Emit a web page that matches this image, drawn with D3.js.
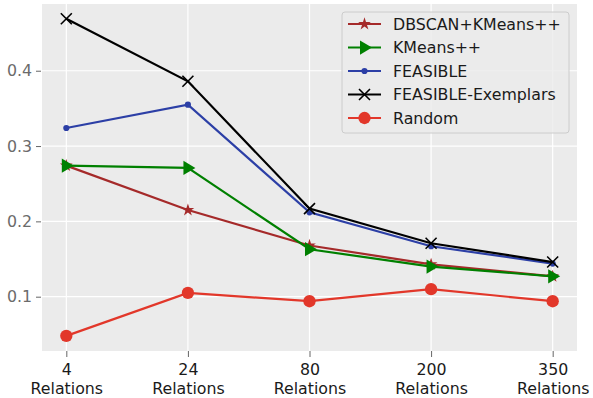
<!DOCTYPE html>
<html>
<head>
<meta charset="utf-8">
<script src="https://cdn.jsdelivr.net/npm/d3@7"></script>
<style>
  body { margin: 0; background: #fff; }
  svg { font-family: "DejaVu Sans", sans-serif; }
</style>
</head>
<body>
<svg id="chart"></svg>
<script>
// Data
const categories = ["4", "24", "80", "200", "350"];
const seriesNames = ["DBSCAN+KMeans++", "KMeans++", "FEASIBLE", "FEASIBLE-Exemplars", "Random"];
const dbscan = [0.274, 0.215, 0.168, 0.143, 0.127];
const kmeans = [0.274, 0.271, 0.163, 0.140, 0.127];
const feasible = [0.324, 0.355, 0.212, 0.167, 0.144];
const exemplars = [0.469, 0.386, 0.217, 0.171, 0.146];
const random = [0.048, 0.105, 0.094, 0.110, 0.094];
const yTicks = [0.1, 0.2, 0.3, 0.4];

const styles = [
  { color: "#a52a2a", marker: "star", size: 50 },
  { color: "#008000", marker: "tri", size: 150 },
  { color: "#2c3fa6", marker: "dot", size: 30 },
  { color: "#000000", marker: "x", size: 0 },
  { color: "#e2372a", marker: "circle", size: 120 }
];
const allSeries = [dbscan, kmeans, feasible, exemplars, random].map((v, i) => ({
  name: seriesNames[i], values: v, ...styles[i]
}));

let width = 593;
let height = 398;
let margin = { top: 4, right: 16, bottom: 47, left: 42 };
let fontSize = "15.8px";

let svg = d3.select("#chart")
  .attr("width", width)
  .attr("height", height);

let x = d3.scaleLinear()
  .domain([-0.2, categories.length - 1 + 0.2])
  .range([margin.left, width - margin.right]);

let y = d3.scaleLinear()
  .domain([0.0279, 0.4886])
  .range([height - margin.bottom, margin.top]);

// Plot background
svg.append("rect")
  .attr("x", margin.left)
  .attr("y", margin.top)
  .attr("width", width - margin.left - margin.right)
  .attr("height", height - margin.top - margin.bottom)
  .attr("fill", "#ebebeb");

// Grid
svg.append("g")
  .selectAll("line")
  .data(yTicks)
  .join("line")
  .attr("x1", margin.left)
  .attr("x2", width - margin.right)
  .attr("y1", d => y(d))
  .attr("y2", d => y(d))
  .attr("stroke", "#fff")
  .attr("stroke-width", 1.2);

svg.append("g")
  .selectAll("line")
  .data(categories.map((c, i) => i))
  .join("line")
  .attr("x1", d => x(d))
  .attr("x2", d => x(d))
  .attr("y1", margin.top)
  .attr("y2", height - margin.bottom)
  .attr("stroke", "#fff")
  .attr("stroke-width", 1.2);

// Y axis
let yAxis = svg.append("g")
  .attr("transform", `translate(${margin.left},0)`)
  .call(d3.axisLeft(y).tickValues(yTicks).tickFormat(d3.format(".1f")).tickSize(5).tickPadding(5));
yAxis.select(".domain").remove();
yAxis.selectAll(".tick line").attr("stroke", "#666").attr("transform", "translate(-1,0)");
yAxis.selectAll(".tick text")
  .attr("fill", "#6b6b6b")
  .style("font-size", fontSize)
  .attr("font-family", "DejaVu Sans");

// X axis
let xAxis = svg.append("g")
  .attr("transform", `translate(0,${height - margin.bottom})`)
  .call(d3.axisBottom(x).tickValues(categories.map((c, i) => i)).tickFormat(() => "").tickSize(6));
xAxis.select(".domain").remove();
xAxis.selectAll(".tick line").attr("stroke", "#666");
xAxis.selectAll(".tick text").remove();
xAxis.selectAll(".tick").append("text")
  .attr("fill", "#1a1a1a")
  .attr("text-anchor", "middle")
  .style("font-size", fontSize)
  .attr("font-family", "DejaVu Sans")
  .each(function(d) {
    let t = d3.select(this);
    t.append("tspan").attr("x", 0).attr("y", 24).text(categories[d]);
    t.append("tspan").attr("x", 0).attr("y", 43).text("Relations");
  });

// Marker drawing
function drawMarker(g, s, cx, cy) {
  if (s.marker === "x") {
    let r = 5.5;
    g.append("path")
      .attr("d", `M${cx - r},${cy - r}L${cx + r},${cy + r}M${cx - r},${cy + r}L${cx + r},${cy - r}`)
      .attr("stroke", s.color)
      .attr("stroke-width", 1.6)
      .attr("fill", "none");
  } else if (s.marker === "tri") {
    let r = 7.5;
    g.append("path")
      .attr("d", `M${cx + r},${cy}L${cx - r * 0.6},${cy - r * 0.95}L${cx - r * 0.6},${cy + r * 0.95}Z`)
      .attr("fill", s.color);
  } else if (s.marker === "star") {
    g.append("path")
      .attr("d", d3.symbol(d3.symbolStar, s.size)())
      .attr("transform", `translate(${cx},${cy})`)
      .attr("fill", s.color);
  } else {
    g.append("path")
      .attr("d", d3.symbol(d3.symbolCircle, s.size)())
      .attr("transform", `translate(${cx},${cy})`)
      .attr("fill", s.color);
  }
}

// Lines
let line = d3.line()
  .x((d, i) => x(i))
  .y(d => y(d));

allSeries.forEach(s => {
  let g = svg.append("g");
  g.append("path")
    .datum(s.values)
    .attr("d", line)
    .attr("fill", "none")
    .attr("stroke", s.color)
    .attr("stroke-width", 2.2);
  s.values.forEach((v, i) => drawMarker(g, s, x(i), y(v)));
});

// Legend
let lg = svg.append("g");
lg.append("rect")
  .attr("x", 342)
  .attr("y", 12)
  .attr("width", 227)
  .attr("height", 121)
  .attr("rx", 3)
  .attr("fill", "#ebebeb")
  .attr("fill-opacity", 0.8)
  .attr("stroke", "#cccccc")
  .attr("stroke-width", 1);

allSeries.forEach((s, i) => {
  let cy = 24 + i * 23.5;
  let g = lg.append("g");
  g.append("line")
    .attr("x1", 348)
    .attr("x2", 381)
    .attr("y1", cy)
    .attr("y2", cy)
    .attr("stroke", s.color)
    .attr("stroke-width", 2.2);
  drawMarker(g, s, 364.5, cy);
  g.append("text")
    .attr("x", 393)
    .attr("y", cy)
    .attr("dy", "0.35em")
    .attr("fill", "#1a1a1a")
    .style("font-size", fontSize)
    .text(s.name);
});
</script>
</body>
</html>
